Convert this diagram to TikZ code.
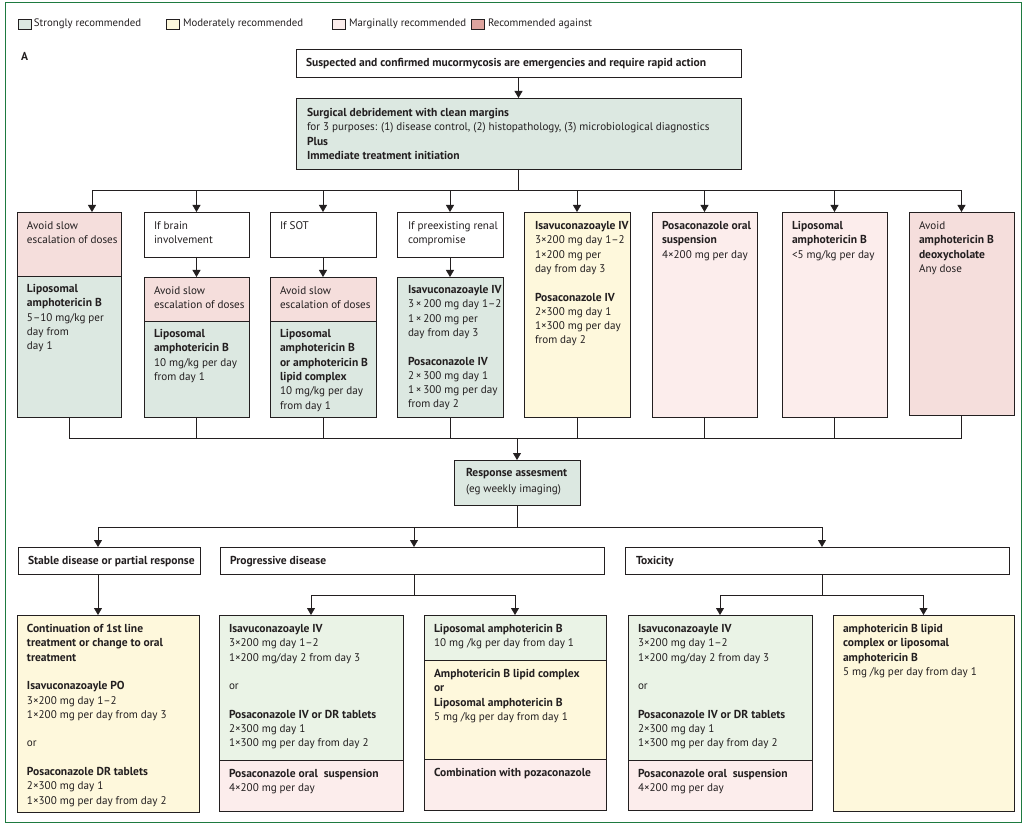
\documentclass[tikz,border=0pt]{standalone}
\usepackage{fontspec}
\setmainfont{PT Sans}[BoldFeatures={Scale=1.04}]
\usetikzlibrary{arrows.meta,calc}
\definecolor{ink}{HTML}{231F20}
\definecolor{strongC}{HTML}{DCE8E1}
\definecolor{brightG}{HTML}{EAF3E6}
\definecolor{modC}{HTML}{FEF8DC}
\definecolor{margC}{HTML}{FCEDEC}
\definecolor{againstC}{HTML}{F5DEDC}
\definecolor{againstL}{HTML}{DDA39E}
\definecolor{frameC}{HTML}{1E7A40}
\tikzset{
 bx/.style={draw=ink, line width=0.8pt, inner sep=0pt, outer sep=0pt, anchor=north west},
 tx/.style={inner sep=0pt, outer sep=0pt, anchor=north west, align=left, font=\fontsize{11.1}{14.3}\selectfont, text=ink},
 lgtx/.style={inner sep=0pt, outer sep=0pt, anchor=west, font=\fontsize{10.8}{12}\selectfont, text=ink},
 arr/.style={draw=ink, line width=0.8pt, -{Triangle[width=8pt,length=7pt]}},
 ln/.style={draw=ink, line width=0.8pt},
}
\newcommand{\bx}[6]{\node[bx,fill=#6,minimum width={(#4-#2)*1pt},minimum height={(#5-#3)*1pt}] (#1) at (#2,#3) {};}
\newcommand{\tx}[4]{\node[tx] (#1) at (#2,#3-6.5) {\strut #4};}
\begin{document}
\begin{tikzpicture}[x=1pt,y=-1pt]
\useasboundingbox (0,0) rectangle (1031,829);
\draw[frameC, line width=1pt] (5,3) rectangle (1021,822);
% legend
\begin{scope}[bx/.append style={line width=0.6pt}]
\bx{lg1}{18}{19}{31}{29}{strongC}
\bx{lg2}{166}{19}{179}{29}{modC}
\bx{lg3}{332}{19}{345}{29}{margC}
\bx{lg4}{471}{19}{484}{29}{againstL}
\end{scope}
\node[lgtx] (lg1t) at (34,24) {Strongly recommended};
\node[lgtx] (lg2t) at (183,24) {Moderately recommended};
\node[lgtx] (lg3t) at (349,24) {Marginally recommended};
\node[lgtx] (lg4t) at (488,24) {Recommended against};
\tx{lblA}{21}{57}{\textbf{A}}
% top
\bx{top}{296}{49}{741}{77}{white}
\tx{topt}{306}{63}{\textbf{Suspected and confirmed mucormycosis are emergencies and require rapid action}}
\bx{surg}{296}{98}{741}{169}{strongC}
\tx{surgt}{307}{113}{\textbf{Surgical debridement with clean margins}\\for 3 purposes: (1) disease control, (2) histopathology, (3) microbiological diagnostics\\\textbf{Plus}\\\textbf{Immediate treatment initiation}}
\draw[arr] (top.south) -- (surg.north);
% columns
\bx{c1a}{17}{212}{121}{276}{againstC}
\tx{c1at}{27}{226}{Avoid slow\\escalation of doses}
\bx{c1b}{17}{276}{121}{417}{strongC}
\tx{c1bt}{27}{289}{\textbf{Liposomal}\\\textbf{amphotericin B}\\5–10 mg/kg per\\day from\\day 1}
\bx{c2w}{144}{212}{249}{257}{white}
\tx{c2wt}{154}{226}{If brain\\involvement}
\bx{c2a}{144}{277}{249}{321}{againstC}
\tx{c2at}{154}{291}{Avoid slow\\escalation of doses}
\bx{c2b}{144}{321}{249}{417}{strongC}
\tx{c2bt}{154}{334}{\textbf{Liposomal}\\\textbf{amphotericin B}\\10 mg/kg per day\\from day 1}
\bx{c3w}{270}{212}{376}{257}{white}
\tx{c3wt}{280}{226}{If SOT}
\bx{c3a}{270}{277}{376}{321}{againstC}
\tx{c3at}{280}{291}{Avoid slow\\escalation of doses}
\bx{c3b}{270}{321}{376}{417}{strongC}
\tx{c3bt}{280}{334}{\textbf{Liposomal}\\\textbf{amphotericin B}\\\textbf{or amphotericin B}\\\textbf{lipid complex}\\10 mg/kg per day\\from day 1}
\bx{c4w}{397}{212}{503}{257}{white}
\tx{c4wt}{408}{226}{If preexisting renal\\compromise}
\bx{c4b}{397}{277}{503}{417}{strongC}
\tx{c4bt}{408}{290}{\textbf{Isavuconazoayle IV}\\3\,×\,200 mg day 1–2\\1\,×\,200 mg per\\day from day 3\\[14.3pt]\textbf{Posaconazole IV}\\2\,×\,300 mg day 1\\1\,×\,300 mg per day\\from day 2}
\bx{c5}{524}{212}{630}{417}{modC}
\tx{c5t}{535}{226}{\textbf{Isavuconazoayle IV}\\3×200 mg day 1–2\\1×200 mg per\\day from day 3\\[14.3pt]\textbf{Posaconazole IV}\\2×300 mg day 1\\1×300 mg per day\\from day 2}
\bx{c6}{652}{212}{757}{417}{margC}
\tx{c6t}{662}{226}{\textbf{Posaconazole oral}\\\textbf{suspension}\\4×200 mg per day}
\bx{c7}{782}{212}{887}{417}{margC}
\tx{c7t}{792}{226}{\textbf{Liposomal}\\\textbf{amphotericin B}\\<5 mg/kg per day}
\bx{c8}{909}{212}{1014}{415}{againstC}
\tx{c8t}{919}{226}{Avoid\\\textbf{amphotericin B}\\\textbf{deoxycholate}\\Any dose}
% top bus
\coordinate (b1) at ($(surg.south)+(0,21)$);
\draw[ln] (surg.south) -- (b1);
\draw[arr] (b1) -| ($(c1a.north)+(23,0)$);
\draw[arr] (b1) -| (c2w.north);
\draw[arr] (b1) -| (c3w.north);
\draw[arr] (b1) -| (c4w.north);
\draw[arr] (b1) -| (c5.north);
\draw[arr] (b1) -| (c6.north);
\draw[arr] (b1) -| (c7.north);
\draw[arr] (b1) -| (c8.north);
\draw[arr] (c2w.south) -- (c2a.north);
\draw[arr] (c3w.south) -- (c3a.north);
\draw[arr] (c4w.south) -- (c4b.north);
% bottom boxes / response
\bx{resp}{454}{460}{580}{505}{strongC}
\tx{respt}{466}{473}{\textbf{Response assesment}\\[1.7pt](eg weekly imaging)}
\coordinate (b2) at ($(resp.north)+(0,-22)$);
\foreach \n in {c1b,c2b,c3b,c4b,c5,c6,c7,c8} {\draw[ln] (\n.south) -- (\n.south |- b2);}
\draw[ln] (c1b.south |- b2) -- (c8.south |- b2);
\draw[arr] (b2) -- (resp.north);
\coordinate (b3) at ($(resp.south)+(0,22)$);
\draw[ln] (resp.south) -- (b3);
\bx{stab}{18}{547}{200}{574}{white}
\tx{stabt}{28}{561}{\textbf{Stable disease or partial response}}
\bx{prog}{220}{547}{604}{574}{white}
\tx{progt}{230}{561}{\textbf{Progressive disease}}
\bx{tox}{625}{547}{1009}{574}{white}
\tx{toxt}{636}{561}{\textbf{Toxicity}}
\draw[arr] (b3) -| ($(stab.north)+(-11,0)$);
\draw[arr] (b3) -| ($(prog.north)+(2,0)$);
\draw[arr] (b3) -| ($(tox.north)+(5,0)$);
% bottom boxes
\bx{sb}{17}{615}{199}{812}{modC}
\tx{sbt}{27}{629}{\textbf{Continuation of 1st line}\\\textbf{treatment or change to oral}\\\textbf{treatment}\\[14.3pt]\textbf{Isavuconazoayle PO}\\3×200 mg day 1–2\\1×200 mg per day from day 3\\[14.3pt]or\\[14.3pt]\textbf{Posaconazole DR tablets}\\2×300 mg day 1\\1×300 mg per day from day 2}
\draw[arr] ($(stab.south)+(-11,0)$) -- ($(sb.north)+(-10,0)$);
\bx{pla}{219}{615}{403}{760}{brightG}
\tx{plat}{229}{629}{\textbf{Isavuconazoayle IV}\\3×200 mg day 1–2\\1×200 mg/day 2 from day 3\\[14.3pt]or\\[14.3pt]\textbf{Posaconazole IV or DR tablets}\\2×300 mg day 1\\1×300 mg per day from day 2}
\bx{plb}{219}{760}{403}{811}{margC}
\tx{plbt}{229}{774}{\textbf{Posaconazole oral\ \ suspension}\\4×200 mg per day}
\bx{pra}{424}{615}{606}{660}{brightG}
\tx{prat}{434}{629}{\textbf{Liposomal amphotericin B}\\10 mg /kg per day from day 1}
\bx{prb}{424}{660}{606}{759}{modC}
\tx{prbt}{434}{674}{\textbf{Amphotericin B lipid complex}\\\textbf{or}\\\textbf{Liposomal amphotericin B}\\5 mg /kg per day from day 1}
\bx{prc}{424}{759}{606}{810}{margC}
\tx{prct}{434}{773}{\textbf{Combination with pozaconazole}}
\coordinate (b4) at ($(prog.south)+(2,21)$);
\draw[ln] ($(prog.south)+(2,0)$) -- (b4);
\draw[arr] (b4) -| (pla.north);
\draw[arr] (b4) -| (pra.north);
\bx{tla}{628}{615}{812}{760}{brightG}
\tx{tlat}{638}{629}{\textbf{Isavuconazoayle IV}\\3×200 mg day 1–2\\1×200 mg/day 2 from day 3\\[14.3pt]or\\[14.3pt]\textbf{Posaconazole IV or DR tablets}\\2×300 mg day 1\\1×300 mg per day from day 2}
\bx{tlb}{628}{760}{812}{810}{margC}
\tx{tlbt}{638}{774}{\textbf{Posaconazole oral\ \ suspension}\\4×200 mg per day}
\bx{tr}{833}{615}{1014}{811}{modC}
\tx{trt}{843}{629}{\textbf{amphotericin B lipid}\\\textbf{complex or liposomal}\\\textbf{amphotericin B}\\5 mg /kg per day from day 1}
\coordinate (b5) at ($(tox.south)+(5,21)$);
\draw[ln] ($(tox.south)+(5,0)$) -- (b5);
\draw[arr] (b5) -| (tla.north);
\draw[arr] (b5) -| (tr.north);
\end{tikzpicture}
\end{document}
